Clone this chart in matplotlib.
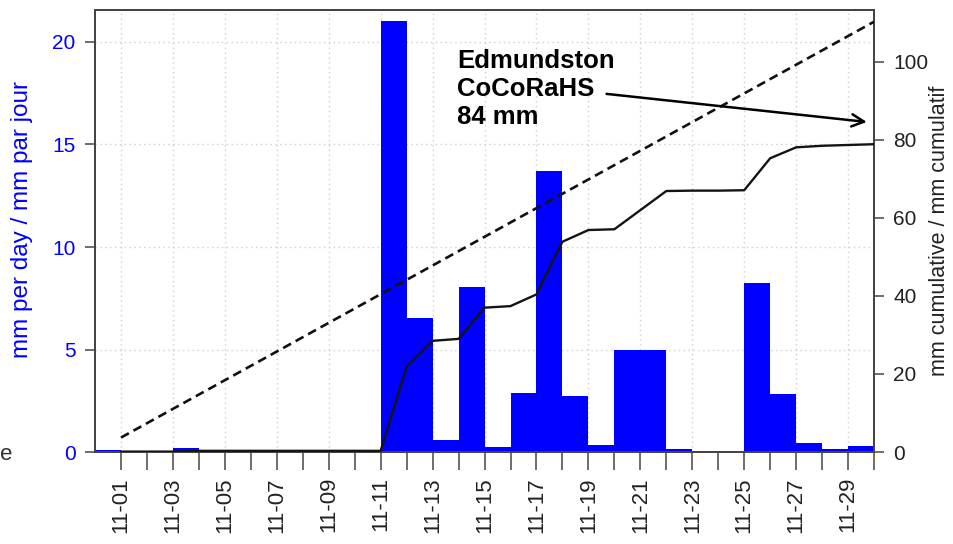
import matplotlib
matplotlib.use("Agg")
import matplotlib.pyplot as plt

plt.rcParams['font.family'] = ['Liberation Sans', 'DejaVu Sans']

# jours du mois (position de fin de chaque barre) et étiquettes
days = list(range(1, 31))
label_days = list(range(1, 30, 2))
date_labels = ['11-01', '11-03', '11-05', '11-07', '11-09', '11-11', '11-13', '11-15',
               '11-17', '11-19', '11-21', '11-23', '11-25', '11-27', '11-29']

# précipitation quotidienne (mm)
daily_mm = [0.1, 0.0, 0.0, 0.2, 0.0, 0.0, 0.0, 0.0, 0.0, 0.0,
            0.0, 21.0, 6.55, 0.6, 8.05, 0.25, 2.9, 13.7, 2.75, 0.35,
            5.0, 5.0, 0.15, 0.0, 0.0, 8.25, 2.85, 0.45, 0.15, 0.3]

# cumul observé (mm)
cumul_mm = [0.1, 0.1, 0.1, 0.3, 0.3, 0.3, 0.3, 0.3, 0.3, 0.3,
            0.3, 21.9, 28.5, 29.0, 37.0, 37.4, 40.4, 53.9, 56.9, 57.1,
            62.0, 66.9, 67.0, 67.0, 67.1, 75.3, 78.1, 78.5, 78.7, 78.9]

# cumul normal (droite pointillée)
normal_days = [1, 30]
normal_mm = [3.7, 110.3]

fig = plt.figure(figsize=(9.54, 5.44), dpi=100)
ax = fig.add_axes([0.0996, 0.1691, 0.8166, 0.8125])
ax2 = ax.twinx()

# barres : chaque barre finit au jour indiqué
ax.bar([d - 1 for d in days], daily_mm, width=1.0, align='edge',
       color='#0000ff', edgecolor='none', zorder=2)

ax2.plot(normal_days, normal_mm, color='#111111', lw=1.9,
         linestyle=(0, (3.4, 2.0)), zorder=3)
ax2.plot(days, cumul_mm, color='#141414', lw=1.7, zorder=3)

ax.set_xlim(0, 30)
ax.set_ylim(0, 21.56)
ax2.set_ylim(0, 113.3)

# axe x
ax.set_xticks(label_days)
ax.set_xticklabels(date_labels, rotation=90, fontsize=16, color='#222222')
ax.set_xticks([d for d in days if d not in label_days], minor=True)
ax.tick_params(axis='x', which='both', length=13, width=1.2, color='#555555',
               direction='out', pad=5)

# axe gauche
ax.set_yticks([0, 5, 10, 15, 20])
ax.tick_params(axis='y', length=7, width=1.2, color='#555555', labelcolor='#0000ff',
               labelsize=15, pad=7)
ax.set_ylabel('mm per day / mm par jour', color='#0000ff', fontsize=17.5)
ax.yaxis.set_label_coords(-0.080, 0.525)

# axe droit
ax2.set_yticks([0, 20, 40, 60, 80, 100])
ax2.tick_params(axis='y', length=7, width=1.2, color='#555555', labelcolor='#222222',
                labelsize=15, pad=7)
ax2.set_ylabel('mm cumulative / mm cumulatif', color='#222222', fontsize=15.5)
ax2.yaxis.set_label_coords(1.070, 0.5)

# grille pointillée
ax.grid(True, which='major', color='#cfcfcf', linestyle=(0, (1, 2.5)), lw=1.0, zorder=0)
ax.set_axisbelow(True)

for a in (ax, ax2):
    for s in a.spines.values():
        s.set_color('#444444')
        s.set_linewidth(1.3)

# annotation
ax2.text(13.95, 93.0, 'Edmundston\nCoCoRaHS\n84 mm', fontsize=18.5, fontweight='bold',
         ha='left', va='center', linespacing=1.2, color='black', zorder=5)
ax2.annotate('', xy=(29.72, 84.6), xytext=(19.7, 91.8),
             arrowprops=dict(arrowstyle='->', color='black', lw=1.8,
                             mutation_scale=22, shrinkA=0, shrinkB=0), zorder=5)

# restes de la figure voisine au bord gauche
fig.text(0.0, 1 - 455 / 544, 'e', fontsize=16, color='#333333', ha='left', va='center')

fig.savefig('out.png', dpi=100)
